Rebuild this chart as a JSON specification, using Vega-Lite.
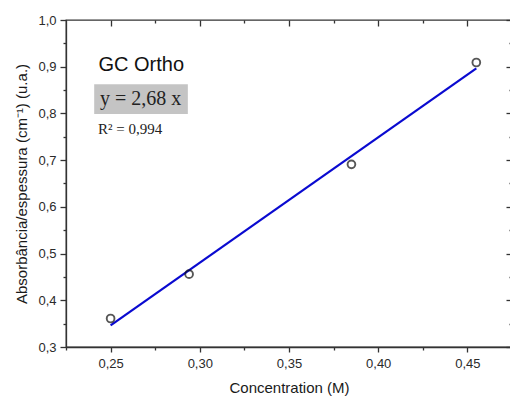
{
  "$schema": "https://vega.github.io/schema/vega-lite/v6.json",
  "autosize": "none",
  "width": 446,
  "height": 327,
  "padding": {"left": 66, "top": 20, "right": 0, "bottom": 52},
  "background": "white",
  "config": {
    "view": {"stroke": "#333333", "strokeWidth": 1.3},
    "font": "Liberation Sans",
    "axis": {
      "domainColor": "#333333",
      "domainWidth": 1.3,
      "tickColor": "#333333",
      "tickWidth": 1.3,
      "grid": false,
      "labelFont": "Liberation Sans",
      "labelFontSize": 13,
      "labelColor": "#2a2a2a",
      "titleFont": "Liberation Sans",
      "titleFontSize": 15,
      "titleFontWeight": "normal",
      "titleColor": "#1a1a1a"
    }
  },
  "resolve": {"axis": {"x": "independent", "y": "independent"}},
  "datasets": {
    "points": [
      {"conc": 0.25, "abs": 0.361},
      {"conc": 0.294, "abs": 0.456},
      {"conc": 0.385, "abs": 0.691},
      {"conc": 0.455, "abs": 0.909}
    ],
    "fit": [
      {"conc": 0.25, "abs": 0.3465},
      {"conc": 0.455, "abs": 0.8966}
    ]
  },
  "layer": [
    {
      "data": {"name": "points"},
      "mark": {"type": "point", "opacity": 0},
      "encoding": {
        "x": {"field": "conc", "type": "quantitative", "scale": {"domain": [0.225, 0.475], "nice": false, "zero": false},
          "axis": {"orient": "top", "values": [0.25, 0.3, 0.35, 0.4, 0.45], "labels": false, "title": null, "domain": false, "offset": -6, "tickSize": 6}},
        "y": {"field": "abs", "type": "quantitative", "scale": {"domain": [0.3, 1.0], "nice": false, "zero": false},
          "axis": {"orient": "right", "values": [0.3, 0.4, 0.5, 0.6, 0.7, 0.8, 0.9, 1.0], "labels": false, "title": null, "domain": false, "offset": -6, "tickSize": 6}}
      }
    },
    {
      "data": {"name": "points"},
      "mark": {"type": "point", "opacity": 0},
      "encoding": {
        "x": {"field": "conc", "type": "quantitative",
          "axis": {"orient": "top", "values": [0.275, 0.325, 0.375, 0.425], "labels": false, "title": null, "domain": false, "offset": -3, "tickSize": 3}},
        "y": {"field": "abs", "type": "quantitative",
          "axis": {"orient": "right", "values": [0.35, 0.45, 0.55, 0.65, 0.75, 0.85, 0.95], "labels": false, "title": null, "domain": false, "offset": -3, "tickSize": 3}}
      }
    },
    {
      "data": {"name": "fit"},
      "mark": {"type": "line", "color": "#0a0ad0", "strokeWidth": 2.2},
      "encoding": {
        "x": {"field": "conc", "type": "quantitative",
          "axis": {"orient": "bottom", "values": [0.225, 0.25, 0.275, 0.3, 0.325, 0.35, 0.375, 0.4, 0.425, 0.45, 0.475], "title": "Concentration (M)",
            "labelExpr": "abs(round(datum.value*1000) % 50) < 1 ? replace(format(datum.value, '.2f'), '.', ',') : ''",
            "tickSize": {"condition": {"test": "abs(round(datum.value*1000) % 50) < 1", "value": 5}, "value": 3},
            "labelPadding": 5, "titlePadding": 10}},
        "y": {"field": "abs", "type": "quantitative",
          "axis": {"orient": "left", "values": [0.3, 0.35, 0.4, 0.45, 0.5, 0.55, 0.6, 0.65, 0.7, 0.75, 0.8, 0.85, 0.9, 0.95, 1.0], "title": "Absorbância/espessura (cm⁻¹) (u.a.)",
            "labelExpr": "abs(round(datum.value*1000) % 100) < 1 ? replace(format(datum.value, '.1f'), '.', ',') : ''",
            "tickSize": {"condition": {"test": "abs(round(datum.value*1000) % 100) < 1", "value": 6}, "value": 3},
            "labelPadding": 4, "titlePadding": 8}}
      }
    },
    {
      "data": {"name": "points"},
      "mark": {"type": "point", "shape": "circle", "filled": false, "color": "#111111", "strokeWidth": 1.9, "size": 60},
      "encoding": {
        "x": {"field": "conc", "type": "quantitative", "axis": null},
        "y": {"field": "abs", "type": "quantitative", "axis": null}
      }
    },
    {
      "data": {"values": [{"x1": 0.2408, "x2": 0.2933, "y1": 0.8624, "y2": 0.7988}]},
      "mark": {"type": "rect", "color": "#c4c4c4"},
      "encoding": {
        "x": {"field": "x1", "type": "quantitative", "axis": null},
        "x2": {"field": "x2"},
        "y": {"field": "y1", "type": "quantitative", "axis": null},
        "y2": {"field": "y2"}
      }
    },
    {
      "data": {"values": [{"x": 0.2432, "y": 0.8915, "label": "GC Ortho"}]},
      "mark": {"type": "text", "align": "left", "baseline": "alphabetic", "font": "Liberation Sans", "fontSize": 20, "color": "#111111"},
      "encoding": {
        "x": {"field": "x", "type": "quantitative", "axis": null},
        "y": {"field": "y", "type": "quantitative", "axis": null},
        "text": {"field": "label"}
      }
    },
    {
      "data": {"values": [{"x": 0.2441, "y": 0.818, "label": "y = 2,68 x"}]},
      "mark": {"type": "text", "align": "left", "baseline": "alphabetic", "font": "Liberation Serif", "fontSize": 20, "color": "#222222"},
      "encoding": {
        "x": {"field": "x", "type": "quantitative", "axis": null},
        "y": {"field": "y", "type": "quantitative", "axis": null},
        "text": {"field": "label"}
      }
    },
    {
      "data": {"values": [{"x": 0.243, "y": 0.756, "label": "R² = 0,994"}]},
      "mark": {"type": "text", "align": "left", "baseline": "alphabetic", "font": "Liberation Serif", "fontSize": 15, "color": "#222222"},
      "encoding": {
        "x": {"field": "x", "type": "quantitative", "axis": null},
        "y": {"field": "y", "type": "quantitative", "axis": null},
        "text": {"field": "label"}
      }
    }
  ]
}
